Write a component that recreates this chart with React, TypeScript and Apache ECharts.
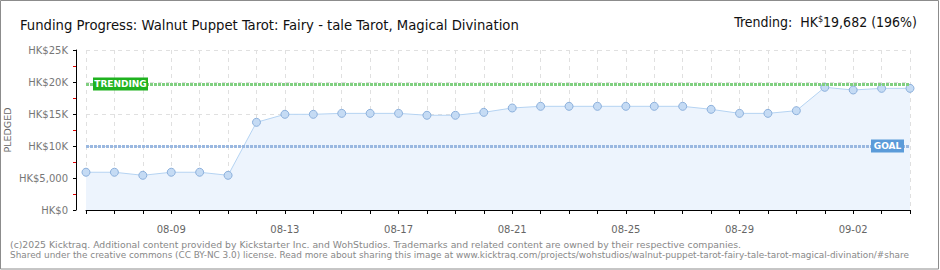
import React, { useEffect, useRef } from "react";
import * as echarts from "echarts";

const dates = [
  "08-06", "08-07", "08-08", "08-09", "08-10", "08-11", "08-12", "08-13",
  "08-14", "08-15", "08-16", "08-17", "08-18", "08-19", "08-20", "08-21",
  "08-22", "08-23", "08-24", "08-25", "08-26", "08-27", "08-28", "08-29",
  "08-30", "08-31", "09-01", "09-02", "09-03", "09-04",
];
const pledged = [
  5900, 5900, 5420, 5900, 5900, 5420, 13700, 14950,
  14950, 15100, 15100, 15100, 14800, 14800, 15260, 15940,
  16200, 16200, 16200, 16200, 16200, 16200, 15730, 15100,
  15100, 15520, 19170, 18750, 19010, 19010,
];
const goal = 10000;
const trending = 19682;
const yTickLabels = ["HK$0", "HK$5,000", "HK$10K", "HK$15K", "HK$20K", "HK$25K"];
const titleText = "Funding Progress: Walnut Puppet Tarot: Fairy - tale Tarot, Magical Divination";
const trendingPrefix = "Trending:  HK";
const trendingCurrency = "$";
const trendingValue = "19,682 (196%)";
const axisName = "PLEDGED";
const trendingTag = "TRENDING";
const goalTag = "GOAL";
const footer1 =
  "(c)2025 Kicktraq. Additional content provided by Kickstarter Inc. and WohStudios. Trademarks and related content are owned by their respective companies.";
const footer2 =
  "Shared under the creative commons (CC BY-NC 3.0) license. Read more about sharing this image at www.kicktraq.com/projects/wohstudios/walnut-puppet-tarot-fairy-tale-tarot-magical-divination/#share";

const TITLE_FONT = "'DejaVu Sans Condensed', sans-serif";
const SMALL_FONT = "'DejaVu Sans', sans-serif";

export default function App() {
  const ref = useRef<HTMLDivElement>(null);
  useEffect(() => {
    const chart = echarts.init(ref.current!, null, { renderer: "svg" });
    chart.setOption({
      animation: false,
      backgroundColor: "#fff",
      grid: { left: 86, right: 30, top: 50, bottom: 60, containLabel: false },
      xAxis: {
        type: "category",
        data: dates,
        boundaryGap: false,
        offset: 10,
        axisLine: { show: true, lineStyle: { color: "#000", width: 1 } },
        axisTick: { show: true, interval: 0, length: 4, lineStyle: { color: "#000" } },
        axisLabel: {
          interval: (i: number) => i % 4 === 3,
          color: "#666",
          fontSize: 10,
          fontFamily: SMALL_FONT,
          margin: 4,
        },
        splitLine: { show: true, interval: 0, lineStyle: { color: "#e0e0e0", type: [4, 4] } },
      },
      yAxis: {
        type: "value",
        min: 0,
        max: 25000,
        interval: 5000,
        offset: 10,
        axisLine: { show: true, lineStyle: { color: "#000", width: 1 } },
        axisTick: { show: true, length: 3, lineStyle: { color: "#000" } },
        minorTick: { show: true, splitNumber: 2, length: 3, lineStyle: { color: "#e00000" } },
        minorSplitLine: { show: false },
        axisLabel: {
          formatter: (v: number) => yTickLabels[Math.round(v / 5000)],
          color: "#777",
          fontSize: 10,
          fontFamily: SMALL_FONT,
          margin: 8,
        },
        splitLine: { show: true, lineStyle: { color: "#e0e0e0", type: [4, 4] } },
      },
      series: [
        {
          type: "line",
          data: pledged,
          symbol: "circle",
          symbolSize: 8,
          itemStyle: { color: "#c5dbf4", borderColor: "#8cb0dc", borderWidth: 1 },
          lineStyle: { color: "#b5d3f2", width: 1 },
          areaStyle: { color: "#edf4fd", opacity: 1 },
          markLine: {
            silent: true,
            symbol: "none",
            label: { show: false },
            lineStyle: { type: [3, 1], width: 3 },
            data: [
              { yAxis: trending, lineStyle: { color: "#80cf80", type: [3, 1], width: 3 } },
              { yAxis: goal, lineStyle: { color: "#9ab8e0", type: [3, 1], width: 3 } },
            ],
          },
          markPoint: {
            silent: true,
            data: [
              {
                coord: [dates[0], trending],
                symbol: "rect",
                symbolSize: [55, 13],
                symbolOffset: [34.5, 0],
                itemStyle: { color: "#1fb21f" },
                label: {
                  show: true,
                  position: "inside",
                  formatter: trendingTag,
                  color: "#fff",
                  fontSize: 9,
                  fontWeight: "bold",
                  fontFamily: SMALL_FONT,
                },
              },
              {
                coord: [dates[dates.length - 1], goal],
                symbol: "rect",
                symbolSize: [33, 13],
                symbolOffset: [-22.5, 0],
                itemStyle: { color: "#5b9bd9" },
                label: {
                  show: true,
                  position: "inside",
                  formatter: goalTag,
                  color: "#fff",
                  fontSize: 9,
                  fontWeight: "bold",
                  fontFamily: SMALL_FONT,
                },
              },
            ],
          },
        },
      ],
      graphic: [
        {
          type: "rect",
          silent: true,
          shape: { x: 0.5, y: 0.5, width: 938, height: 268.5 },
          style: { fill: "none", stroke: "#8c8c8c", lineWidth: 1 },
          z: 100,
        },
        {
          type: "text",
          x: 20,
          y: 24,
          style: {
            text: titleText,
            fontSize: 14.7,
            fontFamily: TITLE_FONT,
            fill: "#111",
            verticalAlign: "middle",
            align: "left",
          },
        },
        {
          type: "text",
          x: 917,
          y: 22,
          style: {
            text: `{a|${trendingPrefix}}{s|${trendingCurrency}}{a|${trendingValue}}`,
            align: "right",
            verticalAlign: "middle",
            rich: {
              a: { fontSize: 14, fontFamily: TITLE_FONT, fill: "#111", color: "#111" },
              s: { fontSize: 9, fontFamily: TITLE_FONT, fill: "#111", color: "#111", verticalAlign: "top", padding: [0, 0, 6, 0] },
            },
          },
        },
        {
          type: "text",
          x: 7,
          y: 130,
          rotation: Math.PI / 2,
          style: {
            text: axisName,
            fontSize: 9.5,
            fontFamily: SMALL_FONT,
            fill: "#666",
            align: "center",
            verticalAlign: "middle",
          },
        },
        {
          type: "text",
          x: 10,
          y: 244,
          style: {
            text: footer1,
            fontSize: 9.3,
            fontFamily: SMALL_FONT,
            fill: "#888",
            align: "left",
            verticalAlign: "middle",
          },
        },
        {
          type: "text",
          x: 10,
          y: 255,
          style: {
            text: footer2,
            fontSize: 8.9,
            fontFamily: SMALL_FONT,
            fill: "#888",
            align: "left",
            verticalAlign: "middle",
          },
        },
      ],
    });
    return () => chart.dispose();
  }, []);
  return (
    <div
      ref={ref}
      style={{ position: "absolute", left: 0, top: 0, width: 940, height: 270 }}
    />
  );
}
